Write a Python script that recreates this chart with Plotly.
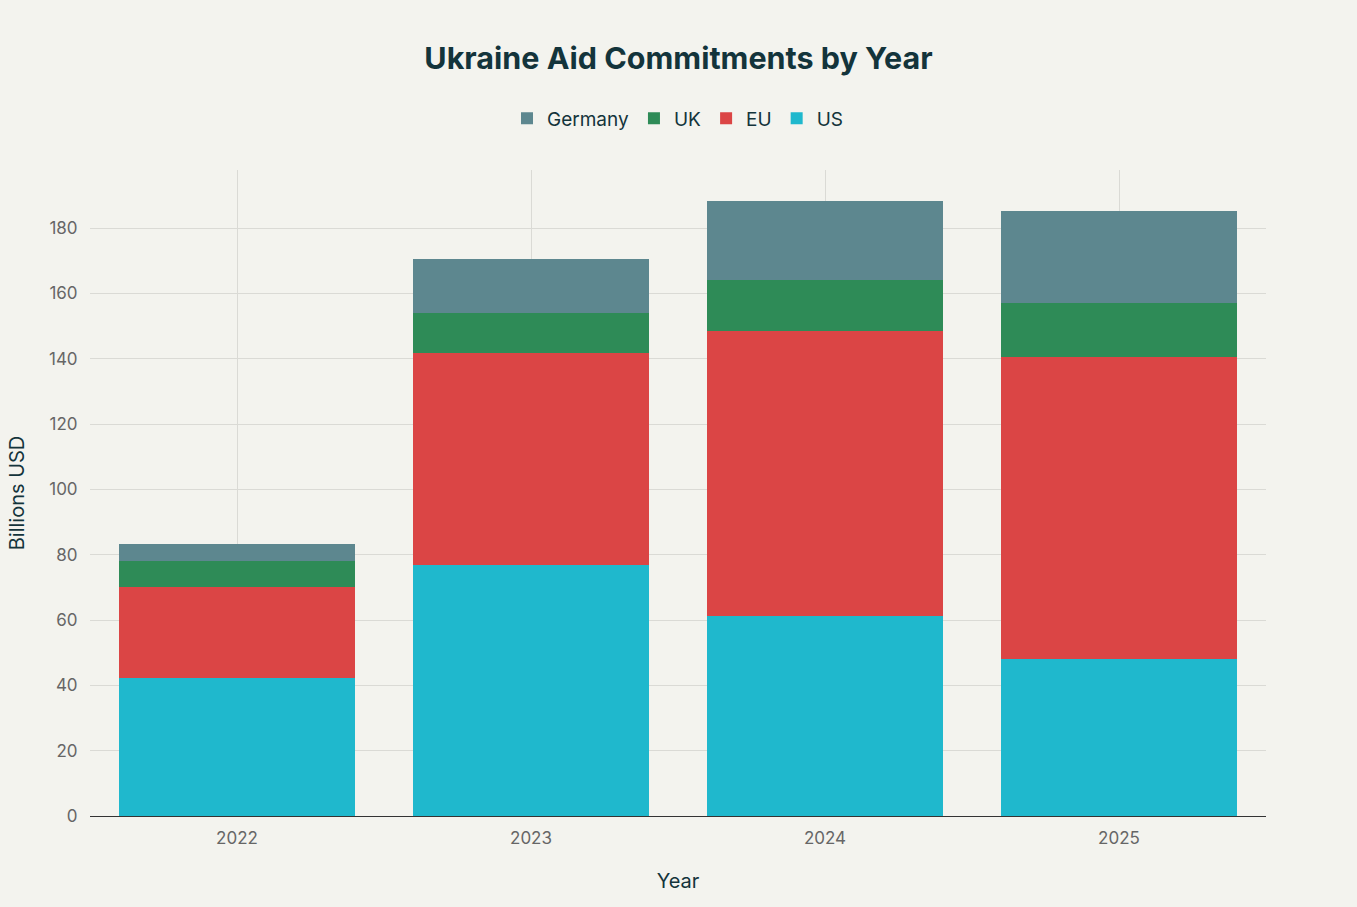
import plotly.graph_objects as go

years = ["2022", "2023", "2024", "2025"]
us = [42.2, 76.8, 61.3, 48.1]
eu = [27.9, 64.9, 87.3, 92.4]
uk = [7.9, 12.4, 15.5, 16.6]
germany = [5.4, 16.5, 24.2, 28.1]

series = [
    ("US", us, "#1FB8CD"),
    ("EU", eu, "#DB4545"),
    ("UK", uk, "#2E8B57"),
    ("Germany", germany, "#5D878F"),
]

fig = go.Figure()
for name, vals, color in series:
    fig.add_trace(go.Bar(x=years, y=vals, name=name, marker=dict(color=color, line=dict(width=0))))

fig.update_layout(
    barmode="stack",
    bargap=0.2,
    width=1357,
    height=907,
    paper_bgcolor="#F3F3EE",
    plot_bgcolor="#F3F3EE",
    font=dict(family="Inter, Roboto, sans-serif", color="#1F3A44"),
    title=dict(text="<b>Ukraine Aid Commitments by Year</b>", x=0.5, xanchor="center", y=0.936, yanchor="middle",
               font=dict(size=30.5, color="#13343B")),
    legend=dict(orientation="h", x=0.5, xanchor="center", y=1.08, yanchor="middle", traceorder="reversed",
                font=dict(size=19, color="#13343B"), bgcolor="rgba(0,0,0,0)"),
    margin=dict(l=90, r=91, t=170, b=91),
    xaxis=dict(title=dict(text="Year", font=dict(size=20, color="#13343B"), standoff=26),
               tickfont=dict(size=17, color="#666666"), showgrid=True, gridcolor="#DADAD5",
               showline=True, linecolor="#333333", linewidth=1,
               ticks="outside", ticklen=7, tickcolor="rgba(0,0,0,0)"),
    yaxis=dict(title=dict(text="Billions USD", font=dict(size=20, color="#13343B"), standoff=18),
               tickfont=dict(size=17, color="#666666"), showgrid=True, gridcolor="#DADAD5",
               range=[0, 197.8], dtick=20, zeroline=False, ticks="outside", ticklen=8, tickcolor="rgba(0,0,0,0)"),
)

fig.write_html("out.html")
